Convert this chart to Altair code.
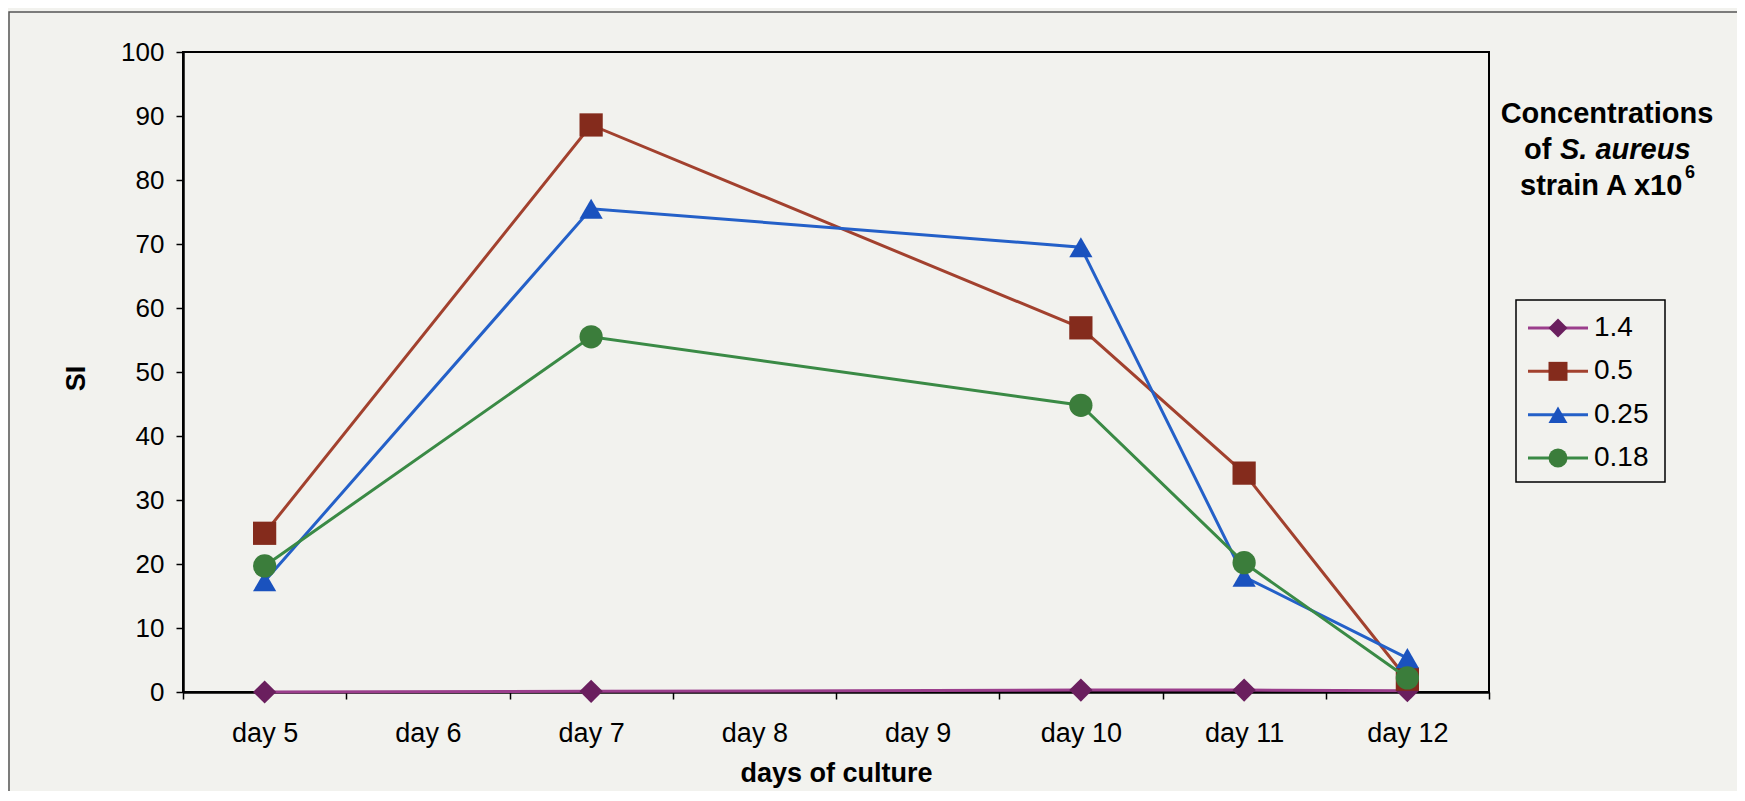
import altair as alt
import pandas as pd

# ---- data ----
days = ["day 5", "day 6", "day 7", "day 8", "day 9", "day 10", "day 11", "day 12"]
measured_days = ["day 5", "day 7", "day 10", "day 11", "day 12"]
series = ["1.4", "0.5", "0.25", "0.18"]
si_1_4 = [0.0, 0.1, 0.3, 0.3, 0.2]
si_0_5 = [24.8, 88.6, 56.9, 34.2, 2.0]
si_0_25 = [17.3, 75.5, 69.5, 18.0, 5.3]
si_0_18 = [19.7, 55.5, 44.8, 20.2, 2.2]
y_ticks = list(range(0, 101, 10))

# ---- styles ----
line_colors = ["#9B3E8C", "#A2412E", "#2460C8", "#3A8A45"]
marker_colors = ["#6A1F5E", "#842B1C", "#1A52BE", "#3B7D3B"]
shapes = ["diamond", "square", "triangle-up", "circle"]
FONT = "Liberation Sans"
BG = "#F2F2EE"

values = {"1.4": si_1_4, "0.5": si_0_5, "0.25": si_0_25, "0.18": si_0_18}
rows = []
for s in series:
    for d, v in zip(measured_days, values[s]):
        rows.append({"day": d, "SI": v, "series": s})
df = pd.DataFrame(rows)
legend_df = pd.DataFrame({"series": series})

W, H = 1306, 640

x_enc = alt.X(
    "day:N",
    bandPosition=0.5,
    scale=alt.Scale(type="band", domain=days, paddingInner=0, paddingOuter=0),
    axis=alt.Axis(
        title="days of culture", tickBand="extent", labelAngle=0,
        labelFontSize=27, labelPadding=21, tickSize=7,
        titleFontSize=27, titleFontWeight="bold",
        titleBaseline="alphabetic", titleY=89,
    ),
)
y_enc = alt.Y(
    "SI:Q",
    scale=alt.Scale(domain=[0, 100], nice=False, zero=True),
    axis=alt.Axis(
        title="SI", values=y_ticks, labelFontSize=26, labelPadding=12, tickSize=7,
        titleFontSize=27, titleFontWeight="bold", titleAngle=270,
        titleX=-107, titleY=326, titleAlign="center", titleBaseline="middle",
    ),
)
color_enc = alt.Color("series:N", scale=alt.Scale(domain=series, range=line_colors), legend=None)
fill_enc = alt.Fill("series:N", scale=alt.Scale(domain=series, range=marker_colors), legend=None)
shape_enc = alt.Shape("series:N", scale=alt.Scale(domain=series, range=shapes), legend=None)

base = alt.Chart(df)
main_layers = []
for s in series:
    sub = base.transform_filter(alt.datum.series == s)
    main_layers.append(
        sub.mark_line(strokeWidth=3).encode(x=x_enc, y=y_enc, color=color_enc)
    )
    main_layers.append(
        sub.mark_point(filled=True, size=540, opacity=1, strokeWidth=0).encode(
            x=x_enc, y=y_enc, fill=fill_enc, shape=shape_enc
        )
    )
main = alt.layer(*main_layers)

# ---- manual legend (line through marker), placed right of the plot ----
leg_y = alt.Y("series:N", scale=alt.Scale(type="point", domain=series, range=[276, 406], padding=0), axis=None)
leg_base = alt.Chart(legend_df)
leg_rules = leg_base.mark_rule(strokeWidth=3).encode(
    x=alt.value(1345), x2=alt.value(1405), y=leg_y, color=color_enc
)
leg_pts = leg_base.mark_point(filled=True, size=360, opacity=1, strokeWidth=0).encode(
    x=alt.value(1375), y=leg_y, fill=fill_enc, shape=shape_enc
)
leg_text = leg_base.mark_text(align="left", baseline="middle", fontSize=28, font=FONT, color="black").encode(
    x=alt.value(1411), y=leg_y, text="series:N"
)
one = alt.Data(values=[{}])
leg_box = alt.Chart(one).mark_rect(fillOpacity=0, stroke="black", strokeWidth=1.5).encode(
    x=alt.value(1333), x2=alt.value(1482), y=alt.value(248), y2=alt.value(430)
)

def txt(s, x, y, size=29, align="left", style="normal"):
    return alt.Chart(one).mark_text(
        align=align, baseline="middle", fontSize=size, fontWeight="bold",
        fontStyle=style, font=FONT, color="black"
    ).encode(x=alt.value(x), y=alt.value(y), text=alt.value(s))

# centred block at x=1424 (plot coords); widths estimated for 29px bold Liberation Sans
title_layers = [
    txt("Concentrations", 1424, 62, align="center"),
    txt("of", 1341, 98),
    txt("S. aureus", 1377, 98, style="italic"),
    txt("strain A x10", 1337, 134),
    txt("6", 1502, 121, size=18),
]

outer = alt.Chart(one).mark_rect(fillOpacity=0, stroke="#555555", strokeWidth=1.5).encode(
    x=alt.value(-174), x2=alt.value(1700), y=alt.value(-40), y2=alt.value(900)
)

legend = alt.layer(leg_box, leg_rules, leg_pts, leg_text, *title_layers, outer)

chart = (
    alt.layer(main, legend)
    .resolve_scale(x="independent", y="independent")
    .properties(
        width=W, height=H,
        autosize=alt.AutoSizeParams(type="none"),
        padding={"left": 175, "top": 44, "right": 248, "bottom": 99},
        background=BG,
    )
    .configure_view(fill=BG, stroke="black", strokeWidth=2)
    .configure_axis(
        labelFont=FONT, titleFont=FONT, labelColor="black", titleColor="black",
        domainColor="black", domainWidth=2.5, tickColor="black", tickWidth=1.5, grid=False,
    )
)

chart.save("out.html", embed_options={"renderer": "svg", "actions": False})
